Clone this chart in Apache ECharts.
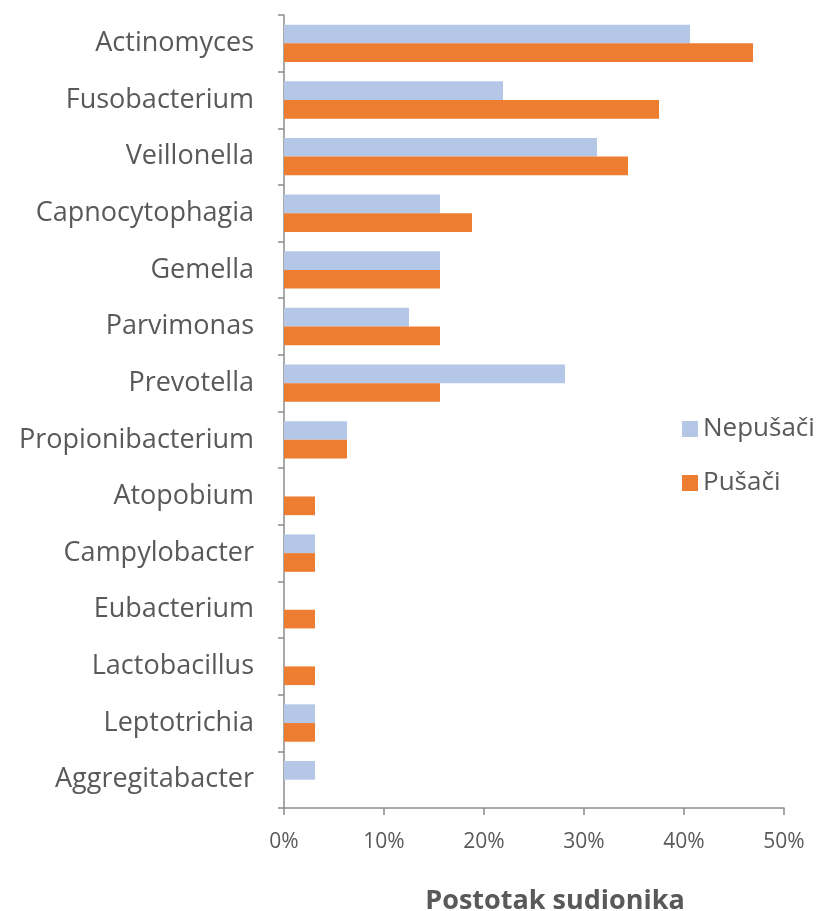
<!DOCTYPE html>
<html>
<head>
<meta charset="utf-8">
<script src="https://cdn.jsdelivr.net/npm/echarts@6/dist/echarts.min.js"></script>
<style>
  html, body { margin: 0; padding: 0; background: #fff; }
  #chart { width: 830px; height: 911px; }
</style>
</head>
<body>
<div id="chart"></div>
<script>
// categories top to bottom
const categories = [
  'Actinomyces', 'Fusobacterium', 'Veillonella', 'Capnocytophagia', 'Gemella',
  'Parvimonas', 'Prevotella', 'Propionibacterium', 'Atopobium', 'Campylobacter',
  'Eubacterium', 'Lactobacillus', 'Leptotrichia', 'Aggregitabacter'
]
// percent of participants
const nepusaci = [40.6, 21.9, 31.3, 15.6, 15.6, 12.5, 28.1, 6.3, 0, 3.1, 0, 0, 3.1, 3.1]
const pusaci = [46.9, 37.5, 34.4, 18.8, 15.6, 15.6, 15.6, 6.3, 3.1, 3.1, 3.1, 3.1, 3.1, 0]

const textColor = '#595959'
const font = 'Open Sans'

const chart = echarts.init(document.getElementById('chart'))
chart.setOption({
  animation: false,
  textStyle: { fontFamily: font, color: textColor },
  grid: { left: 284, right: 46, top: 15, bottom: 103, containLabel: false, outerBoundsMode: 'none' },
  legend: {
    orient: 'vertical',
    left: 677,
    top: 411,
    itemWidth: 16,
    itemHeight: 16,
    itemGap: 28,
    icon: 'rect',
    textStyle: { fontSize: 26, color: textColor, fontFamily: font },
    data: ['Nepušači', 'Pušači']
  },
  xAxis: {
    type: 'value',
    min: 0,
    max: 50,
    interval: 10,
    splitLine: { show: false },
    axisLine: { show: true, lineStyle: { color: '#8c8c8c', width: 1.5 } },
    axisTick: { show: true, length: 7, lineStyle: { color: '#8c8c8c', width: 1.5 } },
    axisLabel: { formatter: '{value}%', fontSize: 21, color: textColor, margin: 24 },
    name: 'Postotak sudionika',
    nameLocation: 'middle',
    nameGap: 80,
    nameTextStyle: { fontSize: 27, fontWeight: 'bold', color: textColor, padding: [0, 0, 0, 42] }
  },
  yAxis: {
    type: 'category',
    inverse: true,
    data: categories,
    axisLine: { show: true, lineStyle: { color: '#8c8c8c', width: 1.5 } },
    axisTick: { show: true, length: 6, lineStyle: { color: '#8c8c8c', width: 1.5 } },
    axisLabel: { fontSize: 27, color: textColor, margin: 30 }
  },
  series: [
    {
      name: 'Nepušači',
      type: 'bar',
      data: nepusaci,
      itemStyle: { color: '#b4c7e7' },
      barGap: '0%',
      barCategoryGap: '34%'
    },
    {
      name: 'Pušači',
      type: 'bar',
      data: pusaci,
      itemStyle: { color: '#ed7d31' },
      barGap: '0%',
      barCategoryGap: '34%'
    }
  ]
})
</script>
</body>
</html>
